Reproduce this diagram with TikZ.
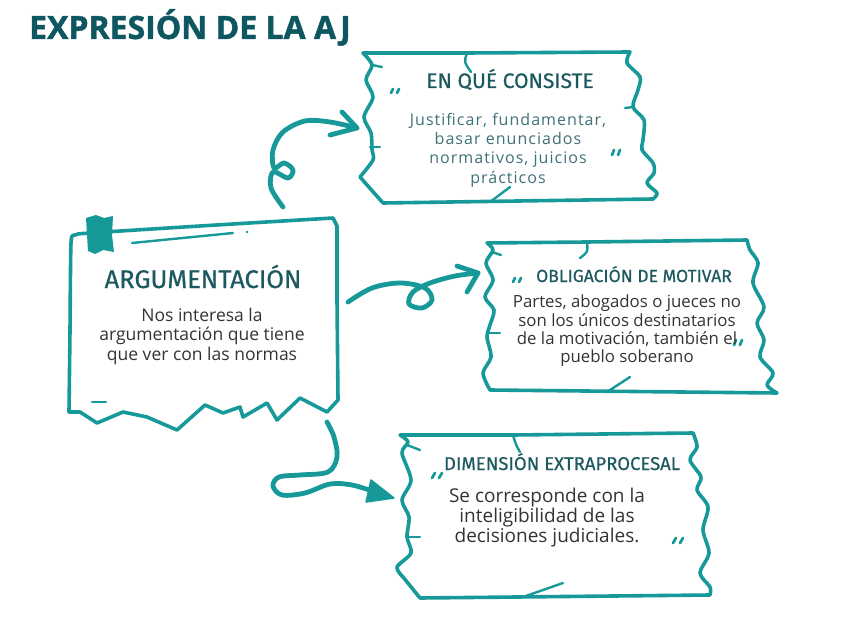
\documentclass[tikz,border=0pt]{standalone}
\usepackage{fontspec}
\setmainfont{Open Sans}
\newfontfamily\titlefont[BoldFeatures={FakeBold=1.3}]{Open Sans}
\newfontfamily\headfont[FakeBold=0.6]{Fira Sans}
\newfontfamily\spacedfont[LetterSpace=6.5]{Open Sans}
\definecolor{tealline}{HTML}{17999A}
\definecolor{titlecol}{HTML}{0E5660}
\definecolor{headcol}{HTML}{1D5A60}
\definecolor{bodycol}{HTML}{333333}
\definecolor{bodyteal}{HTML}{3E7176}
\begin{document}
\begin{tikzpicture}[x=1pt,y=-1pt,
  boxline/.style={draw=tealline, line width=3.6pt, line join=round, line cap=round},
  thinline/.style={draw=tealline, line width=2.4pt, line cap=round, line join=round},
  arrowline/.style={draw=tealline, line width=4.8pt, line cap=round, line join=round},
  headtext/.style={inner sep=0pt, text=headcol, anchor=base},
  bodytext/.style={inner sep=0pt, align=center, anchor=center},
  quotemark/.style={draw=tealline, line width=2.8pt, line cap=round}]
\useasboundingbox (0,0) rectangle (848,636);

% title
\node[anchor=base west, inner sep=0pt, text=titlecol, font=\titlefont\bfseries\fontsize{32}{32}\selectfont] (title) at (29,39) {EXPRESIÓN DE LA AJ};

% ---------- Box A : ARGUMENTACION ----------
\draw[boxline] plot[smooth, tension=0.4] coordinates {(69,412) (70,330) (71,243) (75,235) (90,233) (200,226) (333,218)}
  -- (337,226) -- (337,300) -- (338,400) -- (327,412) -- (300,398) -- (277,420) -- (267,403) -- (243,417)
  -- (240,407) -- (223,413) -- (205,405) -- (177,430) -- (147,417) -- (123,412) -- (97,423) -- (80,412) -- cycle;
\fill[tealline] (86,218) -- (96,215) -- (104,218) -- (113,216) -- (112,235) -- (114,252) -- (103,250) -- (95,254) -- (88,251) -- (87,235) -- cycle;
\draw[thinline] (132,243) -- (233,233);
\fill[tealline] (247,232) circle (1.4);
\draw[thinline] (92,402) -- (106,402);

\node[headtext, font=\headfont\fontsize{25.5}{25.5}\selectfont] (hA) at (203,288) {ARGUMENTACIÓN};
\node[bodytext, text=bodycol, font=\fontsize{17.5}{19.5}\selectfont] (bA) at (202,336) {Nos interesa la\\argumentación que tiene\\que ver con las normas};

% ---------- Box B : EN QUE CONSISTE ----------
\draw[boxline] plot[smooth, tension=0.5] coordinates {(363,53) (372,65) (366,80) (373,97) (364,117) (371,133) (372,150) (373,160) (360,177)}
  -- (383,203) -- (653,199)
  -- plot[smooth, tension=0.5] coordinates {(653,199) (657,193) (647,183) (654,173) (653,163) (642,150) (643,140) (644,120) (633,107) (638,90) (640,77) (627,63) (630,52)}
  -- (467,53) -- cycle;
\draw[thinline] (372,65) -- (382,67);
\draw[thinline] (370,147) -- (380,147);
\draw[thinline] (633,107) -- (625,108);
\draw[thinline] (467,53) .. controls (464,62) .. (471,72);
\draw[thinline] (490,202) -- (510,187);
\draw[quotemark] (391,93) -- (393,89);
\draw[quotemark] (397,93) -- (399,89);
\draw[quotemark] (612,155) -- (614,150);
\draw[quotemark] (618,155) -- (620,150);

\node[headtext, font=\headfont\fontsize{21}{21}\selectfont] (hB) at (510,88) {EN QUÉ CONSISTE};
\node[bodytext, text=bodyteal, font=\spacedfont\fontsize{16}{19.3}\selectfont] (bB) at (508,150) {Justificar, fundamentar,\\basar enunciados\\normativos, juicios\\prácticos};

% ---------- Box C : OBLIGACION DE MOTIVAR ----------
\draw[boxline] plot[smooth, tension=0.5] coordinates {(487,243) (493,250) (486,263) (493,280) (485,297) (494,310) (490,325) (487,337) (491,357) (483,373) (490,390)}
  -- (777,393)
  -- plot[smooth, tension=0.5] coordinates {(777,393) (767,385) (773,373) (760,357) (764,340) (757,323) (764,307) (753,283) (758,263) (750,250) (747,240)}
  -- (587,242) -- cycle;
\draw[thinline] (492,252) -- (501,255);
\draw[thinline] (489,333) -- (500,333);
\draw[thinline] (587,242) .. controls (588,252) .. (580,258);
\draw[thinline] (607,392) -- (630,377);
\draw[quotemark] (513,282) -- (515,278);
\draw[quotemark] (519,282) -- (521,278);
\draw[quotemark] (734,345) -- (736,340);
\draw[quotemark] (740,345) -- (742,340);

\node[headtext, font=\headfont\fontsize{17.5}{17.5}\selectfont] (hC) at (634,282) {OBLIGACIÓN DE MOTIVAR};
\node[bodytext, text=bodycol, font=\fontsize{16.8}{18.3}\selectfont] (bC) at (627,331) {Partes, abogados o jueces no\\son los únicos destinatarios\\de la motivación, también el\\pueblo soberano};

% ---------- Box D : DIMENSION EXTRAPROCESAL ----------
\draw[boxline] plot[smooth, tension=0.5] coordinates {(400,435) (408,442) (402,453) (411,480) (402,500) (409,517) (407,537) (411,553) (397,567) (403,577)}
  -- (420,598) -- (710,595)
  -- plot[smooth, tension=0.5] coordinates {(710,595) (710,587) (700,573) (709,553) (703,530) (708,507) (697,490) (701,477) (690,460) (697,447) (693,433)}
  -- (513,435) -- cycle;
\draw[thinline] (407,445) -- (420,450);
\draw[thinline] (407,537) -- (420,537);
\draw[thinline] (513,435) .. controls (516,445) .. (520,452);
\draw[thinline] (523,597) -- (563,583);
\draw[quotemark] (432,478) -- (435,473);
\draw[quotemark] (439,478) -- (442,473);
\draw[quotemark] (673,543) -- (676,538);
\draw[quotemark] (680,543) -- (683,538);

\node[headtext, font=\headfont\fontsize{18.5}{18.5}\selectfont] (hD) at (562,470) {DIMENSIÓN EXTRAPROCESAL};
\node[bodytext, text=bodycol, font=\fontsize{19}{20}\selectfont] (bD) at (547,518) {Se corresponde con la\\inteligibilidad de las\\decisiones judiciales.};

% ---------- connectors ----------
\coordinate (a1s) at (283,207);
\coordinate (a1e) at (357,128);
\coordinate (a2s) at (348,302);
\coordinate (a2e) at (478,273);
\coordinate (a3s) at (327,422);
\coordinate (a3e) at (394,498);

\draw[arrowline] plot[smooth, tension=0.55] coordinates {(a1s) (271,188) (273,172) (288,178) (293,170) (284,163) (274,168) (273,150) (283,132) (305,121) (330,122) (a1e)};
\draw[arrowline] (342,112) -- (a1e) -- (330,135);

\draw[arrowline] plot[smooth, tension=0.55] coordinates {(a2s) (372,288) (400,283) (425,288) (432,300) (422,308) (409,304) (413,292) (430,283) (455,276) (a2e)};
\draw[arrowline] (457,266) -- (a2e) -- (467,292);

\draw[arrowline] plot[smooth, tension=0.55] coordinates {(a3s) (334,437) (337,457) (328,472) (300,475) (279,477) (273,486) (282,495) (305,493) (330,484) (352,485) (375,492)};
\fill[tealline, draw=tealline, line width=1.5pt, line join=round] (371,480) -- (a3e) -- (366,502) -- cycle;
\end{tikzpicture}
\end{document}
